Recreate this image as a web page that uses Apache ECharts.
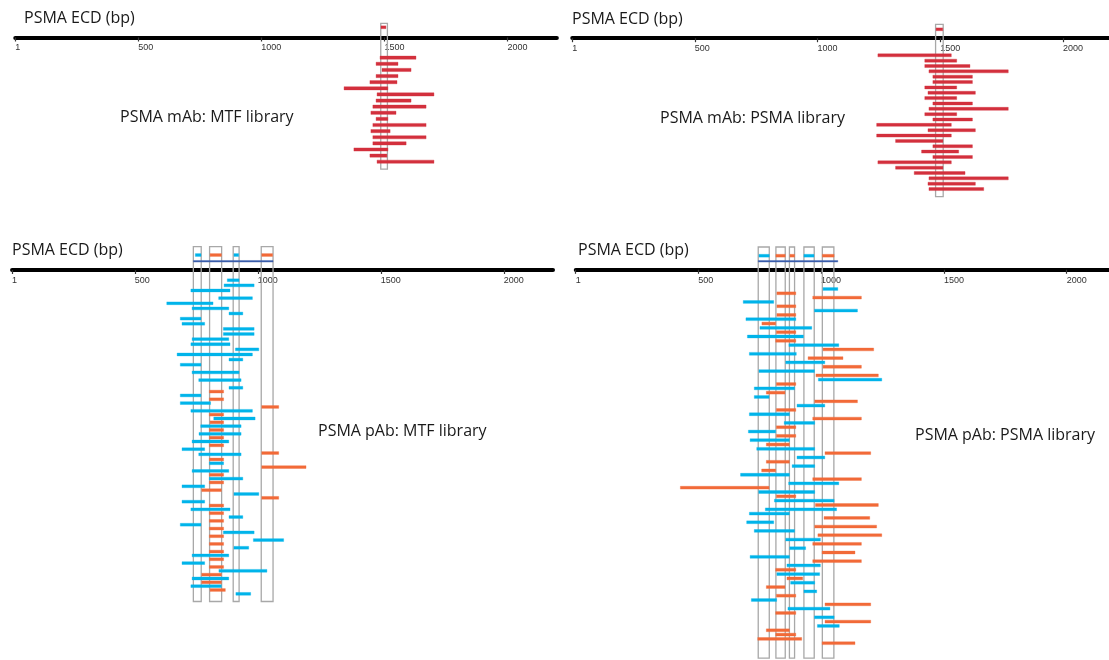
<!DOCTYPE html>
<html><head><meta charset="utf-8">
<script src="https://cdn.jsdelivr.net/npm/echarts@6/dist/echarts.min.js"></script>
<style>html,body{margin:0;padding:0;background:#fff}#main{width:1109px;height:660px}</style>
</head><body><div id="main"></div>
<script>
// ---------- axis ----------
const tickValues = [1, 500, 1000, 1500, 2000];
const axisMin = 1, axisMax = 2200;

// ---------- top-left: PSMA mAb, MTF library (row = index) ----------
const mAbMtfBoxes = [[1485, 1512]];
const mAbMtfMarks = [[1486, 1506, 'r']];
const mAbMtfBars = [
  [1482,1628],[1466,1555],[1490,1608],[1466,1555],[1441,1551],[1336,1514],
  [1470,1701],[1466,1608],[1453,1669],[1445,1547],[1466,1514],[1453,1669],
  [1445,1523],[1453,1669],[1453,1588],[1376,1514],[1441,1510],[1470,1701]
];

// ---------- top-right: PSMA mAb, PSMA library (row = index) ----------
const mAbPsmaBoxes = [[1481, 1512]];
const mAbPsmaMarks = [[1483, 1510, 'r']];
const mAbPsmaBars = [
  [1246,1545],[1437,1567],[1437,1621],[1454,1777],[1470,1631],[1470,1631],
  [1437,1567],[1450,1643],[1437,1567],[1470,1631],[1454,1777],[1437,1567],
  [1470,1631],[1241,1545],[1450,1643],[1241,1545],[1318,1511],[1470,1631],
  [1424,1575],[1470,1631],[1246,1545],[1318,1511],[1394,1601],[1454,1777],
  [1450,1643],[1454,1677]
];

// ---------- bottom-left: PSMA pAb, MTF library ([track, start, end, colour]) ----------
const pAbMtfBoxes = [[738,770],[804,853],[900,924],[1014,1062]];
const pAbMtfMarks = [[746,769,'c'],[806,852,'o'],[903,922,'c'],[1016,1060,'o']];
const pAbMtfSpan = [738, 1062];
const pAbMtfBars = [
  [8,876,924,'c'],[12,863,985,'c'],[16,728,887,'c'],[22,841,978,'c'],[26,630,818,'c'],
  [30,733,882,'c'],[34,883,939,'c'],[38,685,769,'c'],[42,692,784,'c'],[46,860,985,'c'],
  [50,860,985,'c'],[54,733,882,'c'],[58,728,887,'c'],[62,909,1004,'c'],[66,672,978,'c'],
  [70,883,939,'c'],[74,685,769,'c'],[80,733,924,'c'],[86,760,932,'c'],[92,883,939,'c'],
  [95,803,861,'o'],[98,685,769,'c'],[101,803,861,'o'],[104,685,808,'c'],[107,1016,1085,'o'],
  [110,728,978,'c'],[113,803,861,'o'],[116,821,989,'c'],[119,806,861,'o'],[122,768,932,'c'],
  [125,803,861,'o'],[128,761,932,'c'],[131,803,861,'o'],[134,733,882,'c'],[137,803,861,'o'],
  [140,692,784,'c'],[143,1016,1085,'o'],[144,760,932,'c'],[148,803,861,'o'],[151,803,861,'c'],
  [154,1016,1196,'o'],[157,733,882,'c'],[160,803,861,'o'],[163,803,939,'c'],[166,803,861,'o'],
  [169,692,784,'c'],[172,772,852,'o'],[175,903,1004,'c'],[178,1016,1085,'o'],[181,692,784,'c'],
  [184,803,861,'o'],[187,728,887,'c'],[190,803,861,'o'],[193,883,939,'c'],[196,803,861,'o'],
  [199,685,769,'c'],[202,803,861,'o'],[205,860,985,'c'],[208,803,861,'o'],[211,982,1105,'c'],
  [214,803,861,'o'],[217,903,963,'c'],[220,803,861,'o'],[223,733,882,'c'],[226,803,861,'o'],
  [229,692,784,'c'],[232,803,861,'o'],[235,842,1037,'c'],[238,772,852,'o'],[241,733,882,'c'],
  [244,772,852,'o'],[247,728,852,'c'],[250,806,868,'o'],[253,911,971,'c']
];

// ---------- bottom-right: PSMA pAb, PSMA library ([start, end, colour], row = index) ----------
const pAbPsmaBoxes = [[744,789],[816,854],[871,892],[930,972],[1005,1052]];
const pAbPsmaMarks = [[747,789,'c'],[816,854,'o'],[873,892,'o'],[930,971,'c'],[1005,1053,'o']];
const pAbPsmaSpan = [744, 1068];
const pAbPsmaBars = [
  [1008,1068,'c'],[820,897,'o'],[966,1164,'o'],[683,807,'c'],[820,897,'o'],[973,1148,'c'],
  [820,897,'o'],[694,897,'c'],[759,815,'o'],[751,962,'c'],[818,897,'o'],[700,928,'c'],
  [815,897,'o'],[869,1072,'c'],[1008,1214,'o'],[708,899,'c'],[947,1089,'o'],[856,1015,'c'],
  [1008,1164,'o'],[747,973,'c'],[979,1233,'o'],[989,1247,'c'],[818,897,'o'],[728,892,'c'],
  [777,853,'o'],[728,788,'c'],[974,1148,'o'],[902,1015,'c'],[818,897,'o'],[708,871,'c'],
  [966,1164,'o'],[850,974,'c'],[818,897,'o'],[704,815,'c'],[818,897,'o'],[711,871,'c'],
  [777,871,'o'],[738,974,'c'],[1016,1202,'o'],[902,1015,'c'],[777,871,'o'],[882,974,'c'],
  [758,815,'o'],[672,871,'c'],[966,1164,'o'],[868,1072,'c'],[427,788,'o'],[746,974,'c'],
  [818,897,'o'],[810,1053,'c'],[977,1233,'o'],[773,1063,'c'],[708,871,'c'],[1012,1198,'o'],
  [697,807,'c'],[974,1226,'o'],[728,892,'c'],[987,1247,'o'],[856,997,'c'],[966,1164,'o'],
  [872,937,'c'],[1004,1138,'o'],[711,871,'c'],[966,1164,'o'],[861,997,'c'],[815,897,'o'],
  [820,994,'c'],[861,925,'o'],[876,974,'c'],[777,853,'o'],[930,982,'c'],[818,897,'o'],
  [716,819,'c'],[1016,1202,'o'],[865,1036,'c'],[815,897,'o'],[973,1053,'c'],[1016,1202,'o'],
  [985,1074,'c'],[777,871,'o'],[815,897,'o'],[742,921,'o'],[1004,1138,'o']
];

// ---------- text ----------
const axisTitle = 'PSMA ECD (bp)';
const panelNames = ['PSMA mAb: MTF library', 'PSMA mAb: PSMA library', 'PSMA pAb: MTF library', 'PSMA pAb: PSMA library'];

// ---------- styling / layout ----------
const palette = {r:'#d3303d', c:'#00b4ea', o:'#f26a38', b:'#3b5eab'};
const paletteKeys = ['r','c','o','b'];
const layouts = [
  {left:15,   k:0.2463, axisY:37.5,  unit:6.12, barOffset:3.3,  barH:3.2, markY:-1.67, boxTop:-2.32, boxBottom:21.5, yMax:22},
  {left:572,  k:0.2455, axisY:38.2,  unit:5.35, barOffset:3.2,  barH:3.0, markY:-1.66, boxTop:-2.6,  boxBottom:29.6, yMax:30},
  {left:11.8, k:0.246,  axisY:270,   unit:1.28, barOffset:0,    barH:2.8, markY:-11.7, lineY:-6.8, boxTop:-18.2, boxBottom:259, yMax:261},
  {left:575.5,k:0.2456, axisY:269.8, unit:4.32, barOffset:4.44, barH:2.8, markY:-3.26, lineY:-1.97, boxTop:-5.28, boxBottom:89.9, yMax:91}
];
const titlePos = [[24,10],[572,11],[12,242],[578,242]];
const namePos = [[120,109],[660,110],[318,423],[915,427]];

function ci(key){ return paletteKeys.indexOf(key); }
function hexA(hex, a){
  const n = parseInt(hex.slice(1),16);
  return 'rgba(' + ((n>>16)&255) + ',' + ((n>>8)&255) + ',' + (n&255) + ',' + a + ')';
}
function segRender(h){
  return function(params, api){
    const y = api.value(2);
    const a = api.coord([api.value(0), y]);
    const b = api.coord([api.value(1), y]);
    const col = palette[paletteKeys[api.value(3)]];
    return {type:'rect', shape:{x:a[0], y:a[1]-h/2, width:b[0]-a[0], height:h},
      style:{fill:col, stroke:hexA(col,0.35), lineWidth:1}};
  };
}
function boxRender(params, api){
  const a = api.coord([api.value(0), api.value(2)]);
  const b = api.coord([api.value(1), api.value(3)]);
  return {type:'rect', shape:{x:a[0], y:a[1], width:b[0]-a[0], height:b[1]-a[1]},
    style:{fill:'none', stroke:'#a8a8a8', lineWidth:1.3}};
}

const panelData = [
  {bars: mAbMtfBars.map((b,i)=>[b[0], b[1], layouts[0].barOffset + i, ci('r')]), boxes: mAbMtfBoxes, marks: mAbMtfMarks, span: null},
  {bars: mAbPsmaBars.map((b,i)=>[b[0], b[1], layouts[1].barOffset + i, ci('r')]), boxes: mAbPsmaBoxes, marks: mAbPsmaMarks, span: null},
  {bars: pAbMtfBars.map(b=>[b[1], b[2], layouts[2].barOffset + b[0], ci(b[3])]), boxes: pAbMtfBoxes, marks: pAbMtfMarks, span: pAbMtfSpan},
  {bars: pAbPsmaBars.map((b,i)=>[b[0], b[1], layouts[3].barOffset + i, ci(b[2])]), boxes: pAbPsmaBoxes, marks: pAbPsmaMarks, span: pAbPsmaSpan}
];

const grids = [], xAxes = [], yAxes = [], series = [], titles = [];
layouts.forEach((L, i) => {
  grids.push({left: L.left + L.k*axisMin, width: L.k*(axisMax-axisMin),
              top: L.axisY, height: L.yMax*L.unit, containLabel:false, outerBoundsMode:'none'});
  xAxes.push({type:'value', gridIndex:i, min:axisMin, max:axisMax, position:'top',
    axisLine:{show:true, onZero:false, lineStyle:{color:'#000', width:4}},
    axisTick:{show:true, inside:true, customValues:tickValues, length:4, lineStyle:{color:'#333', width:1.2}},
    axisLabel:{show:true, inside:true, customValues:tickValues, fontSize:9, color:'#333', fontFamily:'Liberation Sans, Arial, sans-serif', margin:6, align:'left', verticalAlign:'top', formatter:v=>String(v)},
    splitLine:{show:false}});
  yAxes.push({type:'value', gridIndex:i, inverse:true, min:0, max:L.yMax, show:false});
  const P = panelData[i];
  series.push({type:'custom', xAxisIndex:i, yAxisIndex:i, z:1, clip:false, renderItem:boxRender,
    data: P.boxes.map(b=>[b[0], b[1], L.boxTop, L.boxBottom])});
  if (P.span) series.push({type:'custom', xAxisIndex:i, yAxisIndex:i, z:3, clip:false, renderItem:segRender(1.6),
    data: [[P.span[0], P.span[1], L.lineY, ci('b')]]});
  series.push({type:'custom', xAxisIndex:i, yAxisIndex:i, z:3, clip:false, renderItem:segRender(2.8),
    data: P.marks.map(m=>[m[0], m[1], L.markY, ci(m[2])])});
  series.push({type:'custom', xAxisIndex:i, yAxisIndex:i, z:3, clip:false, renderItem:segRender(L.barH),
    data: P.bars});
  titles.push({text: axisTitle, left: titlePos[i][0], top: titlePos[i][1], padding:0,
    textStyle:{fontFamily:'Open Sans', fontSize:16, fontWeight:'normal', color:'#1a1a1a'}});
  titles.push({text: panelNames[i], left: namePos[i][0], top: namePos[i][1], padding:0,
    textStyle:{fontFamily:'Open Sans', fontSize:16, fontWeight:'normal', color:'#1a1a1a'}});
});

const chart = echarts.init(document.getElementById('main'), null, {renderer:'canvas'});
chart.setOption({animation:false, backgroundColor:'#fff', title:titles, grid:grids, xAxis:xAxes, yAxis:yAxes, series:series});
</script></body></html>
